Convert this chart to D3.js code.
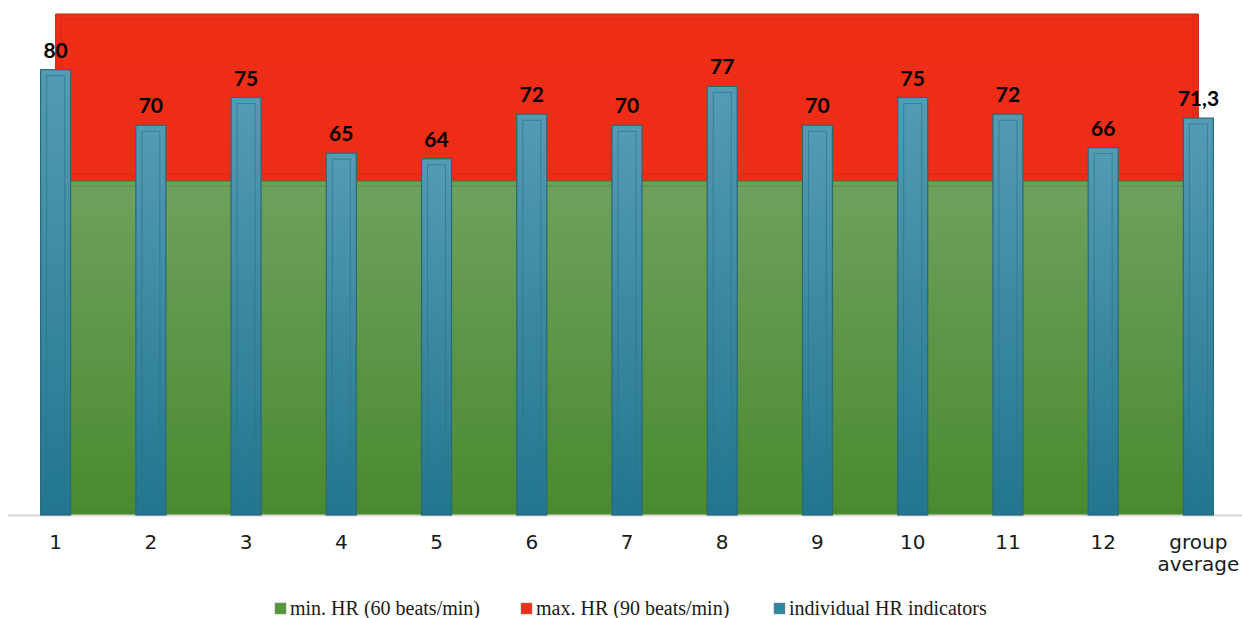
<!DOCTYPE html>
<html><head><meta charset="utf-8">
<script src="https://cdn.jsdelivr.net/npm/d3@7"></script>
<style>html,body{margin:0;padding:0;background:#fff;}svg{display:block;}</style>
</head><body>
<svg id="chart" width="1242" height="618"></svg>
<script>
const categories = ["1","2","3","4","5","6","7","8","9","10","11","12","group average"];
const hrValues = [80,70,75,65,64,72,70,77,70,75,72,66,71.3];
const hrLabels = ["80","70","75","65","64","72","70","77","70","75","72","66","71,3"];
const minHR = [60,60,60,60,60,60,60,60,60,60,60,60,60];
const maxHR = [90,90,90,90,90,90,90,90,90,90,90,90,90];
const seriesNames = ["min. HR (60 beats/min)","max. HR (90 beats/min)","individual HR indicators"];

const svg = d3.select("#chart");
const defs = svg.append("defs");

const x = d3.scalePoint().domain(categories).range([8,1246]).padding(0.5);
const y = d3.scaleLinear().domain([0,90]).range([515,14]);
const barW = x.step()*0.315;

function grad(id, stops){
  const g = defs.append("linearGradient").attr("id",id).attr("x1",0).attr("y1",0).attr("x2",0).attr("y2",1);
  stops.forEach(s=>g.append("stop").attr("offset",s[0]).attr("stop-color",s[1]));
}
grad("gRed",[[0,"#ef2e18"],[1,"#e92b14"]]);
grad("gGreen",[[0,"#6ea15e"],[1,"#4a8a2f"]]);
grad("gBar",[[0,"#539cb3"],[1,"#22768f"]]);

const rows = categories.map((c,i)=>({c, v:hrValues[i], lab:hrLabels[i], mn:minHR[i], mx:maxHR[i]}));

// max area (behind)
const areaMax = d3.area().x(d=>x(d.c)).y0(y(0)).y1(d=>y(d.mx));
svg.append("path").datum(rows).attr("d",areaMax)
  .attr("fill","url(#gRed)").attr("stroke","#c9230f").attr("stroke-width",1);
const x0 = x(categories[0]), x1 = x(categories[categories.length-1]);
svg.append("rect").attr("x",x0+5).attr("y",y(90)+5).attr("width",x1-x0-10).attr("height",y(60)-y(90)-12)
  .attr("fill","none").attr("stroke","#d3260f").attr("stroke-opacity",0.6).attr("stroke-width",1);

// min area
const areaMin = d3.area().x(d=>x(d.c)).y0(y(0)).y1(d=>y(d.mn));
svg.append("path").datum(rows).attr("d",areaMin)
  .attr("fill","url(#gGreen)").attr("stroke","#3f7a2a").attr("stroke-width",1);
svg.append("rect").attr("x",x0+5).attr("y",y(60)+5).attr("width",x1-x0-10).attr("height",y(0)-y(60)-10)
  .attr("fill","none").attr("stroke","#3f7a2a").attr("stroke-opacity",0.45).attr("stroke-width",1);

// axis line
svg.append("line").attr("x1",8).attr("x2",1242).attr("y1",515.5).attr("y2",515.5)
  .attr("stroke","#d9d9d9").attr("stroke-width",2);

// bars
const bars = svg.append("g").selectAll("g").data(rows).join("g");
bars.append("rect")
  .attr("x",d=>x(d.c)-barW/2).attr("y",d=>y(d.v))
  .attr("width",barW).attr("height",d=>y(0)-y(d.v))
  .attr("fill","url(#gBar)").attr("stroke","#2b6878").attr("stroke-width",1.2);
bars.append("rect")
  .attr("x",d=>x(d.c)-barW/2+6).attr("y",d=>y(d.v)+6)
  .attr("width",barW-12).attr("height",d=>y(0)-y(d.v)-12)
  .attr("fill","none").attr("stroke","#2f7488").attr("stroke-opacity",0.7).attr("stroke-width",1);

// data labels
bars.append("text")
  .attr("x",d=>x(d.c)).attr("y",d=>y(d.v)-12)
  .attr("text-anchor","middle")
  .style("font-family","Lato, 'DejaVu Sans', sans-serif").style("font-weight","bold").style("font-size","21px")
  .attr("fill","#000").text(d=>d.lab);

// x axis labels
const xl = svg.append("g").selectAll("text").data(categories).join("text")
  .attr("x",d=>x(d)).attr("y",549)
  .attr("text-anchor","middle")
  .style("font-family","'DejaVu Sans', sans-serif").style("font-size","20px")
  .attr("fill","#1a1a1a");
xl.each(function(d){
  const parts = d.split(" ");
  const t = d3.select(this);
  parts.forEach((p,i)=>t.append("tspan").attr("x",x(d)).attr("dy",i===0?0:22).text(p));
});

// legend
const legColors = ["#56973c","#ee2f17","#2f87a3"];
const legX = [275,521,774];
const leg = svg.append("g").selectAll("g").data(seriesNames).join("g")
  .attr("transform",(d,i)=>`translate(${legX[i]},0)`);
leg.append("rect").attr("x",0).attr("y",603).attr("width",11).attr("height",11)
  .attr("fill",(d,i)=>legColors[i]).attr("stroke","#888").attr("stroke-width",0.5);
leg.append("text").attr("x",15).attr("y",615)
  .style("font-family","'Liberation Serif', 'Times New Roman', serif").style("font-size","20px")
  .attr("fill","#1a1a1a").text(d=>d);
</script>
</body></html>
